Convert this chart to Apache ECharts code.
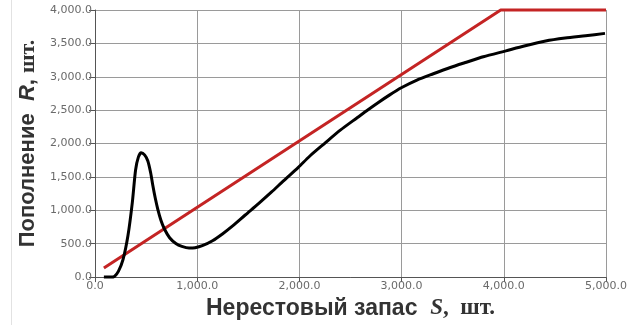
<!DOCTYPE html>
<html>
<head>
<meta charset="utf-8">
<script src="https://cdn.jsdelivr.net/npm/echarts@6/dist/echarts.min.js"></script>
<style>
html,body{margin:0;padding:0;background:#fff;}
#chart{width:630px;height:325px;}
</style>
</head>
<body>
<div id="chart"></div>
<script>
// Black curve: recruitment R vs spawning stock S
const blackS = [87,150,190,230,274,323,365,397,425,452,485,517,545,565,590,614,645,678,730,791,850,920,980,1050,1150,1250,1350,1470,1600,1728,1850,1987,2100,2245,2400,2568,2665,2762,2880,2997,3150,3311,3470,3634,3800,4021,4200,4409,4600,4800,4990];
const blackR = [0,0,10,90,260,626,1115,1605,1800,1862,1830,1740,1560,1380,1180,1018,850,724,590,504,460,435,440,470,545,650,770,930,1100,1275,1450,1640,1810,2000,2200,2390,2500,2605,2725,2835,2950,3045,3135,3218,3300,3388,3460,3535,3580,3615,3650];
// Red line: replacement line, capped at 4000
const redS = [87,3970,5000];
const redR = [135,4000,4000];
// Axis ticks
const xTicks = [0,1000,2000,3000,4000,5000];
const yTicks = [0,500,1000,1500,2000,2500,3000,3500,4000];

function fmt(v){
  return v.toLocaleString('en-US',{minimumFractionDigits:1,maximumFractionDigits:1});
}
const blackData = blackS.map((s,i)=>[s,blackR[i]]);
const redData = redS.map((s,i)=>[s,redR[i]]);

const chart = echarts.init(document.getElementById('chart'),null,{renderer:'canvas'});
const labelStyle = {color:'#6a6a6a',fontFamily:'DejaVu Sans',fontSize:11};
chart.setOption({
  animation:false,
  backgroundColor:'#fff',
  grid:{left:95,right:19,top:10,bottom:42},
  graphic:[{type:'line',shape:{x1:11.5,y1:0,x2:11.5,y2:325},style:{stroke:'#e2e2e2',lineWidth:1}}],
  xAxis:{
    type:'value',min:xTicks[0],max:xTicks[xTicks.length-1],interval:1000,
    axisLine:{show:true,lineStyle:{color:'#555',width:1}},
    axisTick:{show:true,length:5,lineStyle:{color:'#555'}},
    axisLabel:{...labelStyle,margin:4,formatter:fmt},
    splitLine:{show:true,lineStyle:{color:'#9a9a9a',width:1}},
    name:'{b|Нерестовый запас  }{i|S}{s|,  шт.}',
    nameLocation:'middle',nameGap:18,
    nameTextStyle:{rich:{
      b:{fontFamily:'Liberation Sans',fontWeight:'bold',fontSize:23,color:'#333'},
      i:{fontFamily:'Liberation Serif',fontWeight:'bold',fontStyle:'italic',fontSize:23,color:'#333'},
      s:{fontFamily:'Liberation Serif',fontWeight:'bold',fontSize:23,color:'#333'}
    }}
  },
  yAxis:{
    type:'value',min:yTicks[0],max:yTicks[yTicks.length-1],interval:500,
    axisLine:{show:true,lineStyle:{color:'#555',width:1}},
    axisTick:{show:true,length:6,lineStyle:{color:'#555'}},
    axisLabel:{...labelStyle,margin:3,formatter:fmt},
    splitLine:{show:true,lineStyle:{color:'#9a9a9a',width:1}},
    name:'{b|Пополнение  }{i|R}{b|, }{s|шт.}',
    nameLocation:'middle',nameGap:55,nameRotate:90,
    nameTextStyle:{rich:{
      b:{fontFamily:'Liberation Sans',fontWeight:'bold',fontSize:22,color:'#333'},
      i:{fontFamily:'Liberation Sans',fontWeight:'bold',fontStyle:'italic',fontSize:22,color:'#333'},
      s:{fontFamily:'Liberation Serif',fontWeight:'bold',fontSize:22,color:'#333'}
    }}
  },
  series:[
    {type:'line',data:redData,showSymbol:false,clip:false,lineStyle:{color:'#c42424',width:3},z:2},
    {type:'line',data:blackData,showSymbol:false,smooth:0.25,clip:false,lineStyle:{color:'#000',width:3,join:'round'},z:3}
  ]
});
</script>
</body>
</html>
